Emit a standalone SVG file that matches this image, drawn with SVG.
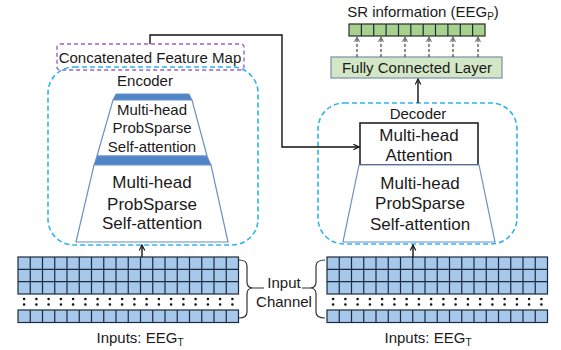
<svg xmlns="http://www.w3.org/2000/svg" xmlns:xlink="http://www.w3.org/1999/xlink" width="561" height="350" viewBox="0 0 561 350">
<style>
text{font-family:"Liberation Sans",Arial,sans-serif;fill:#1a1a1a;text-anchor:middle}
.cyan{fill:none;stroke:#2fb4ea;stroke-width:1.6;stroke-dasharray:5 3}
.purple{fill:none;stroke:#9b5fcf;stroke-width:1.4;stroke-dasharray:4 3}
.trap{fill:#fff;stroke:#6d8fc2;stroke-width:1.2}
.band{fill:#4f86c9;stroke:#6d8fc2;stroke-width:1}
.cell{fill:#a6c8ea;stroke:#1c2a40;stroke-width:1.2}
.gl{fill:none;stroke:#1c2a40;stroke-width:1.2}
.green{fill:#a9d18e;stroke:#2a2a2a;stroke-width:1.2}
.con{fill:none;stroke:#111;stroke-width:1.4}
.dash{fill:none;stroke:#333;stroke-width:1.1;stroke-dasharray:3 2}
.brace{fill:none;stroke:#333;stroke-width:1.2}
</style>
<defs>
<marker id="ah" viewBox="0 0 10 10" refX="9" refY="5" markerWidth="7" markerHeight="7" orient="auto" markerUnits="userSpaceOnUse">
<path d="M1,1 L9,5 L1,9" fill="none" stroke="#111" stroke-width="1.6"/>
</marker>
<marker id="ahs" viewBox="0 0 10 10" refX="9" refY="5" markerWidth="6" markerHeight="6" orient="auto" markerUnits="userSpaceOnUse">
<path d="M1,1 L9,5 L1,9" fill="none" stroke="#333" stroke-width="1.4"/>
</marker>
<g id="grid">
<rect class="cell" x="0" y="257" width="220.5" height="37"/>
<rect class="cell" x="0" y="310" width="220.5" height="12.5"/>
<path class="gl" d="M0,269.33H220.5M0,281.67H220.5
M12.25,257V294M24.5,257V294M36.75,257V294M49,257V294M61.25,257V294M73.5,257V294M85.75,257V294M98,257V294M110.25,257V294M122.5,257V294M134.75,257V294M147,257V294M159.25,257V294M171.5,257V294M183.75,257V294M196,257V294M208.25,257V294
M12.25,310V322.5M24.5,310V322.5M36.75,310V322.5M49,310V322.5M61.25,310V322.5M73.5,310V322.5M85.75,310V322.5M98,310V322.5M110.25,310V322.5M122.5,310V322.5M134.75,310V322.5M147,310V322.5M159.25,310V322.5M171.5,310V322.5M183.75,310V322.5M196,310V322.5M208.25,310V322.5"/>
<path d="M6.1,299h0M18.4,299h0M30.6,299h0M42.9,299h0M55.1,299h0M67.4,299h0M79.6,299h0M91.9,299h0M104.1,299h0M116.4,299h0M128.6,299h0M140.9,299h0M153.1,299h0M165.4,299h0M177.6,299h0M189.9,299h0M202.1,299h0M214.4,299h0
M6.1,304.5h0M18.4,304.5h0M30.6,304.5h0M42.9,304.5h0M55.1,304.5h0M67.4,304.5h0M79.6,304.5h0M91.9,304.5h0M104.1,304.5h0M116.4,304.5h0M128.6,304.5h0M140.9,304.5h0M153.1,304.5h0M165.4,304.5h0M177.6,304.5h0M189.9,304.5h0M202.1,304.5h0M214.4,304.5h0" stroke="#111" stroke-width="2.6" stroke-linecap="round"/>
</g>
</defs>

<g id="sr-output">
<text x="423" y="17" font-size="15">SR information (EEG<tspan font-size="10" dy="3">P</tspan><tspan dy="-3">)</tspan></text>
<rect class="green" x="349" y="24" width="136" height="12"/>
<path class="gl" d="M361.4,24V36M373.7,24V36M386.1,24V36M398.5,24V36M410.8,24V36M423.2,24V36M435.5,24V36M447.9,24V36M460.3,24V36M472.6,24V36" stroke="#2a2a2a"/>
</g>

<g id="fc-layer">
<rect x="331" y="57" width="171" height="21" fill="#d3e7c6" stroke="#7a8fa8" stroke-width="1.2"/>
<text x="417" y="73" font-size="15">Fully Connected Layer</text>
</g>

<g id="concat-map">
<rect class="purple" x="57" y="44" width="187" height="26" rx="3"/>
<text x="150" y="63" font-size="15">Concatenated Feature Map</text>
</g>

<g id="encoder">
<rect class="cyan" x="48" y="67" width="210" height="178" rx="26"/>
<text x="145" y="86" font-size="15">Encoder</text>
<polygon class="band" points="116,94 189,94 192,100 113,100"/>
<polygon class="trap" points="113,100 192,100 207,156 97,156"/>
<polygon class="band" points="97,156 207,156 211,165 94,165"/>
<polygon class="trap" points="94,165 211,165 228,242 76,242"/>
<text x="152" y="115" font-size="15">Multi-head</text>
<text x="152" y="133" font-size="15">ProbSparse</text>
<text x="152" y="152" font-size="15">Self-attention</text>
<text x="152" y="188" font-size="17">Multi-head</text>
<text x="152" y="210" font-size="17">ProbSparse</text>
<text x="152" y="229" font-size="17">Self-attention</text>
</g>

<g id="decoder">
<rect class="cyan" x="318" y="103" width="199" height="141" rx="26"/>
<text x="418" y="119" font-size="15">Decoder</text>
<rect x="360" y="123" width="118" height="42" fill="#fff" stroke="#222" stroke-width="1.6"/>
<text x="419" y="141" font-size="17">Multi-head</text>
<text x="419" y="161" font-size="17">Attention</text>
<polygon class="trap" points="359,165 479,165 495,242 343,242"/>
<text x="420" y="189" font-size="17">Multi-head</text>
<text x="420" y="209" font-size="17">ProbSparse</text>
<text x="420" y="230" font-size="17">Self-attention</text>
</g>

<g id="input-left">
<use xlink:href="#grid" href="#grid" x="18"/>
<text x="140" y="343" font-size="15">Inputs: EEG<tspan font-size="10" dy="3">T</tspan></text>
</g>

<g id="input-right">
<use xlink:href="#grid" href="#grid" x="327"/>
<text x="428" y="343" font-size="15">Inputs: EEG<tspan font-size="10" dy="3">T</tspan></text>
</g>

<g id="input-channel">
<path class="brace" d="M239,260Q247,260 247,266V282Q247,288 253,288H264M253,288Q247,288 247,294V312Q247,318 239,318"/>
<path class="brace" d="M325,260Q316,260 316,266V282Q316,288 310,288H302M310,288Q316,288 316,294V312Q316,318 325,318"/>
<text x="284" y="288" font-size="15">Input</text>
<text x="284" y="307" font-size="15">Channel</text>
</g>

<g id="connectors">
<path class="con" d="M150,44V35H282V147H359" marker-end="url(#ah)"/>
<path class="con" d="M142,257V245" marker-end="url(#ah)"/>
<path class="con" d="M413,257V245" marker-end="url(#ah)"/>
<path class="con" d="M418,103V79" marker-end="url(#ah)"/>
<path class="dash" d="M357,57V37" marker-end="url(#ahs)"/>
<path class="dash" d="M381,57V37" marker-end="url(#ahs)"/>
<path class="dash" d="M405,57V37" marker-end="url(#ahs)"/>
<path class="dash" d="M429,57V37" marker-end="url(#ahs)"/>
<path class="dash" d="M453,57V37" marker-end="url(#ahs)"/>
<path class="dash" d="M478,57V37" marker-end="url(#ahs)"/>
</g>
</svg>
